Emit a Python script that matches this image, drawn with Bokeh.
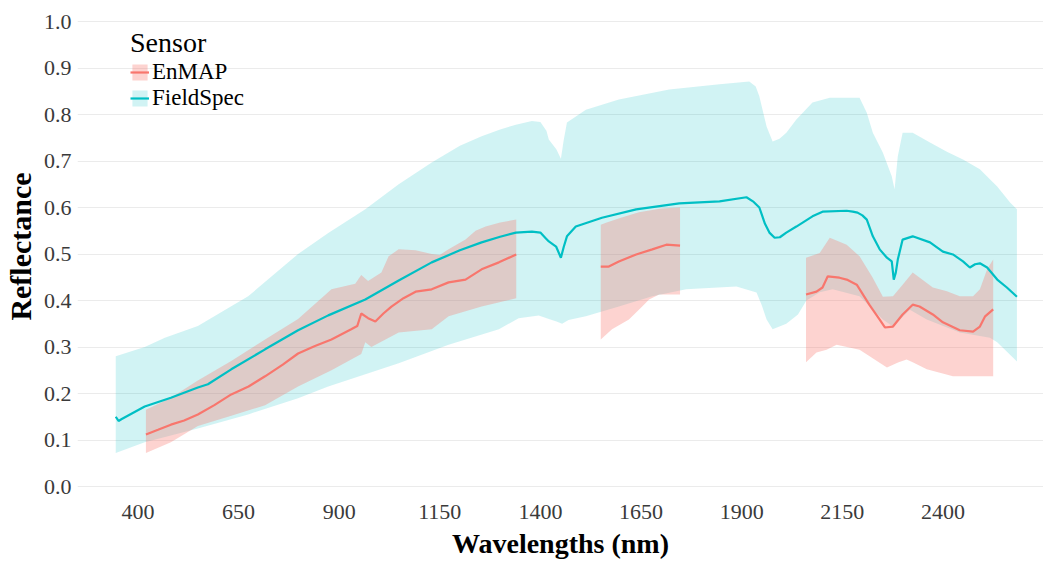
from bokeh.plotting import figure
from bokeh.models import Range1d, FixedTicker, Legend, LegendItem
from bokeh.embed import file_html
from bokeh.resources import INLINE

# ---------------- data ----------------
x_ticks = [400, 650, 900, 1150, 1400, 1650, 1900, 2150, 2400]
y_ticks = [0.0, 0.1, 0.2, 0.3, 0.4, 0.5, 0.6, 0.7, 0.8, 0.9, 1.0]
y_tick_labels = ["0.0", "0.1", "0.2", "0.3", "0.4", "0.5", "0.6", "0.7", "0.8", "0.9", "1.0"]
sensors = ["EnMAP", "FieldSpec"]

# FieldSpec mean
fs_wl = [345, 352, 360, 417, 482, 549, 574, 632, 716, 798, 873, 965, 1048, 1130, 1200, 1254, 1300,
         1339, 1379, 1400, 1412, 1421, 1439, 1451, 1458, 1466, 1488, 1553, 1638, 1745, 1845, 1912,
         1930, 1944, 1958, 1969, 1982, 1995, 2011, 2036, 2076, 2101, 2161, 2176, 2188, 2200, 2211,
         2226, 2243, 2261, 2273, 2278, 2283, 2288, 2300, 2325, 2368, 2400, 2425, 2450, 2467, 2480,
         2492, 2510, 2535, 2559, 2584]
fs_mean = [0.150, 0.141, 0.145, 0.172, 0.191, 0.213, 0.220, 0.252, 0.295, 0.336, 0.368, 0.402, 0.443,
           0.482, 0.508, 0.525, 0.537, 0.546, 0.548, 0.546, 0.535, 0.527, 0.516, 0.492, 0.515, 0.538,
           0.559, 0.578, 0.596, 0.609, 0.613, 0.622, 0.612, 0.600, 0.565, 0.546, 0.535, 0.536, 0.546,
           0.559, 0.581, 0.591, 0.593, 0.591, 0.589, 0.583, 0.574, 0.538, 0.510, 0.492, 0.484, 0.445,
           0.460, 0.488, 0.531, 0.538, 0.525, 0.505, 0.499, 0.484, 0.471, 0.478, 0.480, 0.471, 0.445,
           0.428, 0.408]
# FieldSpec upper bound
fs_up_wl = [345, 417, 467, 549, 674, 798, 873, 965, 1048, 1130, 1200, 1254, 1300, 1339, 1379, 1400,
            1415, 1421, 1440, 1451, 1458, 1466, 1513, 1595, 1720, 1845, 1919, 1935, 1944, 1962, 1977,
            1994, 2011, 2036, 2076, 2119, 2193, 2211, 2226, 2251, 2273, 2280, 2288, 2300, 2325, 2368,
            2410, 2450, 2492, 2535, 2567, 2584]
fs_up = [0.280, 0.300, 0.320, 0.345, 0.409, 0.500, 0.545, 0.596, 0.650, 0.697, 0.733, 0.753, 0.768,
         0.778, 0.786, 0.784, 0.765, 0.746, 0.725, 0.705, 0.745, 0.783, 0.810, 0.832, 0.854, 0.865,
         0.871, 0.860, 0.839, 0.774, 0.742, 0.748, 0.761, 0.789, 0.826, 0.836, 0.836, 0.804, 0.761,
         0.718, 0.667, 0.639, 0.710, 0.761, 0.761, 0.740, 0.720, 0.703, 0.682, 0.645, 0.611, 0.596]
# FieldSpec lower bound
fs_lo_wl = [345, 417, 549, 674, 798, 873, 1048, 1172, 1297, 1346, 1396, 1421, 1440, 1454, 1470, 1513,
            1595, 1678, 1762, 1887, 1937, 1950, 1962, 1977, 2011, 2040, 2061, 2094, 2126, 2193, 2251,
            2276, 2318, 2360, 2442, 2517, 2535, 2584]
fs_lo = [0.072, 0.095, 0.125, 0.155, 0.190, 0.215, 0.265, 0.305, 0.338, 0.362, 0.368, 0.360, 0.355,
         0.350, 0.358, 0.366, 0.387, 0.409, 0.424, 0.430, 0.417, 0.390, 0.359, 0.338, 0.350, 0.370,
         0.400, 0.418, 0.424, 0.409, 0.359, 0.344, 0.380, 0.359, 0.331, 0.320, 0.310, 0.269]

# EnMAP segment 1
en1_wl = [420, 450, 482, 515, 549, 590, 632, 675, 716, 760, 798, 840, 881, 930, 945, 955, 972, 990,
          1010, 1030, 1060, 1090, 1130, 1172, 1214, 1254, 1297, 1340]
en1_mean = [0.112, 0.122, 0.133, 0.142, 0.155, 0.175, 0.198, 0.215, 0.237, 0.262, 0.286, 0.302, 0.316,
            0.338, 0.345, 0.372, 0.362, 0.355, 0.372, 0.387, 0.405, 0.419, 0.424, 0.439, 0.445, 0.467,
            0.482, 0.499]
en1_up_wl = [420, 480, 549, 632, 716, 798, 881, 940, 955, 972, 1005, 1023, 1048, 1090, 1130, 1150,
             1172, 1214, 1239, 1264, 1300, 1340]
en1_up = [0.165, 0.190, 0.228, 0.270, 0.316, 0.360, 0.424, 0.436, 0.455, 0.442, 0.460, 0.495, 0.510,
          0.508, 0.500, 0.498, 0.510, 0.531, 0.550, 0.559, 0.568, 0.574]
en1_lo_wl = [420, 482, 549, 632, 716, 798, 881, 955, 965, 980, 1048, 1130, 1172, 1254, 1340]
en1_lo = [0.072, 0.095, 0.130, 0.152, 0.175, 0.215, 0.250, 0.285, 0.310, 0.300, 0.331, 0.338, 0.366,
          0.387, 0.405]

# EnMAP segment 2
en2_wl = [1550, 1570, 1595, 1638, 1678, 1713, 1747]
en2_mean = [0.473, 0.473, 0.484, 0.499, 0.510, 0.520, 0.518]
en2_up_wl = [1550, 1563, 1600, 1645, 1700, 1747]
en2_up = [0.563, 0.567, 0.578, 0.590, 0.598, 0.600]
en2_lo_wl = [1550, 1578, 1620, 1653, 1670, 1695, 1747]
en2_lo = [0.316, 0.338, 0.359, 0.387, 0.402, 0.413, 0.413]

# EnMAP segment 3
en3_wl = [2060, 2086, 2101, 2114, 2143, 2161, 2186, 2218, 2243, 2256, 2276, 2300, 2325, 2342, 2375,
          2400, 2442, 2475, 2492, 2505, 2525]
en3_mean = [0.413, 0.419, 0.428, 0.452, 0.449, 0.445, 0.434, 0.390, 0.359, 0.342, 0.344, 0.370, 0.391,
            0.387, 0.370, 0.353, 0.336, 0.333, 0.344, 0.366, 0.381]
en3_up_wl = [2060, 2094, 2119, 2161, 2193, 2225, 2251, 2276, 2300, 2325, 2375, 2410, 2442, 2475, 2492,
             2510, 2525]
en3_up = [0.492, 0.502, 0.535, 0.520, 0.495, 0.450, 0.408, 0.409, 0.434, 0.460, 0.428, 0.420, 0.409,
          0.409, 0.424, 0.467, 0.488]
en3_lo_wl = [2060, 2086, 2111, 2136, 2193, 2218, 2261, 2290, 2310, 2325, 2360, 2425, 2525]
en3_lo = [0.267, 0.288, 0.294, 0.305, 0.294, 0.280, 0.256, 0.267, 0.273, 0.267, 0.252, 0.237, 0.237]

# ---------------- styling ----------------
RED = "#F8766D"
CYAN = "#00BFC4"
FONT = "Liberation Serif"

FRAME_H = 492
PX_PER_UNIT = 465
y_top = 1 + 21 / PX_PER_UNIT
y_bot = y_top - FRAME_H / PX_PER_UNIT
p = figure(frame_width=966, frame_height=FRAME_H, output_backend="svg", toolbar_location=None,
           x_range=Range1d(250, 250 + 966 / 0.4025),
           y_range=Range1d(y_bot, y_top),
           min_border_top=0, min_border_right=0, min_border_left=0, min_border_bottom=0)
p.outline_line_color = None
p.background_fill_color = "white"
p.border_fill_color = "white"

p.xgrid.grid_line_color = None
p.ygrid.grid_line_color = "#ebebeb"
p.ygrid.grid_line_width = 1.2

p.xaxis.ticker = FixedTicker(ticks=x_ticks)
p.yaxis.ticker = FixedTicker(ticks=y_ticks)
p.yaxis.major_label_overrides = {t: s for t, s in zip(y_ticks, y_tick_labels)}
for ax in (p.xaxis, p.yaxis):
    ax.axis_line_color = None
    ax.major_tick_line_color = None
    ax.minor_tick_line_color = None
    ax.major_tick_out = 0
    ax.major_tick_in = 0
    ax.major_label_text_font = FONT
    ax.major_label_text_font_size = "22px"
    ax.major_label_text_color = "#3a3a3a"
    ax.axis_label_text_font = FONT
    ax.axis_label_text_font_style = "bold"
    ax.axis_label_text_color = "black"
p.xaxis.axis_label = "Wavelengths (nm)"
p.yaxis.axis_label = "Reflectance"
p.xaxis.axis_label_text_font_size = "28px"
p.yaxis.axis_label_text_font_size = "30px"
p.xaxis.major_label_standoff = 12
p.xaxis.axis_label_standoff = 6
p.yaxis.major_label_standoff = 6
p.yaxis.axis_label_standoff = 4


def ribbon(up_wl, up, lo_wl, lo, color, alpha):
    xs = list(up_wl) + list(lo_wl)[::-1]
    ys = list(up) + list(lo)[::-1]
    return p.patch(xs, ys, fill_color=color, fill_alpha=alpha, line_color=None)


fs_rib = ribbon(fs_up_wl, fs_up, fs_lo_wl, fs_lo, CYAN, 0.18)
en_ribs = [ribbon(en1_up_wl, en1_up, en1_lo_wl, en1_lo, RED, 0.32),
           ribbon(en2_up_wl, en2_up, en2_lo_wl, en2_lo, RED, 0.32),
           ribbon(en3_up_wl, en3_up, en3_lo_wl, en3_lo, RED, 0.32)]

en_lines = [p.line(w, m, line_color=RED, line_width=2.2)
            for w, m in ((en1_wl, en1_mean), (en2_wl, en2_mean), (en3_wl, en3_mean))]
fs_line = p.line(fs_wl, fs_mean, line_color=CYAN, line_width=2.2)

legend = Legend(items=[LegendItem(label=sensors[0], renderers=[en_ribs[0], en_lines[0]]),
                       LegendItem(label=sensors[1], renderers=[fs_rib, fs_line])],
                location=(53, 381), title="Sensor")
legend.title_text_font = FONT
legend.title_text_font_size = "28px"
legend.title_text_font_style = "normal"
legend.title_text_color = "black"
legend.title_standoff = 0
legend.label_text_font = FONT
legend.label_text_font_size = "23px"
legend.label_text_color = "black"
legend.glyph_width = 19
legend.glyph_height = 20
legend.label_height = 20
legend.label_standoff = 3
legend.spacing = 0
legend.padding = 0
legend.margin = 0
legend.border_line_color = None
legend.background_fill_alpha = 0
p.add_layout(legend)

open("out.html", "w").write(file_html(p, INLINE))
